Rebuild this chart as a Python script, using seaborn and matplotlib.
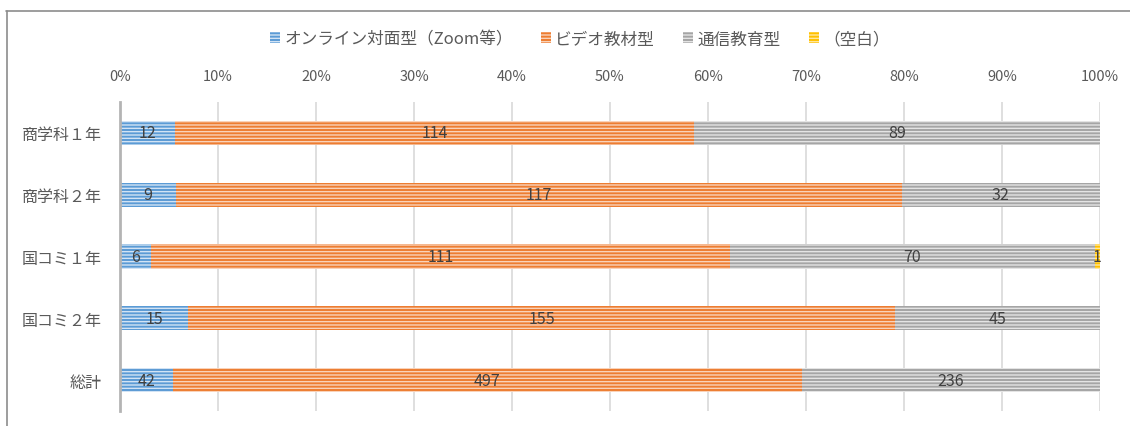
import numpy as np
import pandas as pd
import matplotlib
matplotlib.use("Agg")
import matplotlib.pyplot as plt
import matplotlib.patches as mpatches
from matplotlib.lines import Line2D
import seaborn as sns

# 受講形式の希望(学科・学年別)
categories = ["商学科１年", "商学科２年", "国コミ１年", "国コミ２年", "総計"]
series_names = ["オンライン対面型（Zoom等）", "ビデオ教材型", "通信教育型", "（空白）"]
online = [12, 9, 6, 15, 42]
video = [114, 117, 111, 155, 497]
tsushin = [89, 32, 70, 45, 236]
blank = [0, 0, 1, 0, 0]
tick_labels = ["0%", "10%", "20%", "30%", "40%", "50%", "60%", "70%", "80%", "90%", "100%"]

base_colors = ["#5B9BD5", "#ED7D31", "#A5A5A5", "#FFC000"]
stripe_colors = ["#D2E3F4", "#F9D3BA", "#E4E4E4", "#FFE7A0"]

sns.set_theme(style="white")
plt.rcParams["font.family"] = ["Noto Sans CJK JP", "DejaVu Sans"]
plt.rcParams["hatch.linewidth"] = 1.0

counts = np.array([online, video, tsushin, blank], dtype=float)
totals = counts.sum(axis=0)
shares = counts / totals * 100
cum = np.cumsum(shares, axis=0)

fig = plt.figure(figsize=(11.3, 4.27), dpi=100)
ax = fig.add_axes([120 / 1130, 1 - 412 / 427, 980 / 1130, 309 / 427])

# stacked bars: draw cumulative extents from the outermost segment inward
for i in reversed(range(len(series_names))):
    df = pd.DataFrame({"cat": categories, "val": cum[i]})
    sns.barplot(data=df, x="val", y="cat", orient="h", ax=ax,
                color=base_colors[i], width=0.39, saturation=1,
                edgecolor=stripe_colors[i], linewidth=0, hatch="-----",
                zorder=3)

# value labels centred in each segment
for i in range(len(series_names)):
    for j, cat in enumerate(categories):
        v = counts[i, j]
        if v <= 0:
            continue
        xc = cum[i, j] - shares[i, j] / 2
        ax.text(xc, j, f"{int(v)}", ha="center", va="center",
                fontsize=11.5, color="#404040", zorder=5)

ax.set_xlim(0, 100)
ax.set_ylim(len(categories) - 0.5, -0.5)
ax.set_xticks(np.arange(0, 101, 10))
ax.set_xticklabels(tick_labels)
ax.xaxis.tick_top()
ax.tick_params(axis="x", length=0, pad=13.5, labelsize=10.5, labelcolor="#595959")
ax.tick_params(axis="y", length=0, pad=13, labelsize=11.5, labelcolor="#595959")
ax.set_xlabel("")
ax.set_ylabel("")
ax.grid(axis="x", color="#D9D9D9", linewidth=1.2, zorder=0)
ax.set_axisbelow(True)
for side in ["top", "right", "bottom"]:
    ax.spines[side].set_visible(False)
ax.spines["left"].set_color("#B4B4B4")
ax.spines["left"].set_linewidth(2)
ax.spines["left"].set_zorder(4)

handles = [mpatches.Patch(facecolor=base_colors[i], edgecolor=stripe_colors[i],
                          linewidth=0, hatch="-----", label=series_names[i])
           for i in range(len(series_names))]
fig.legend(handles=handles, loc="center", bbox_to_anchor=(580 / 1130, 1 - 40 / 427),
           ncol=4, frameon=False, fontsize=12, handlelength=0.6, handleheight=0.6,
           handletextpad=0.25, columnspacing=1.7, labelcolor="#595959")

# chart frame (left and top edges)
fig.add_artist(Line2D([6.5 / 1130, 6.5 / 1130], [0, 1 - 11.5 / 427],
                      transform=fig.transFigure, color="#8C8C8C", linewidth=1.2))
fig.add_artist(Line2D([6 / 1130, 1], [1 - 11.5 / 427, 1 - 11.5 / 427],
                      transform=fig.transFigure, color="#8C8C8C", linewidth=1.2))

fig.savefig("out.png", dpi=100)
